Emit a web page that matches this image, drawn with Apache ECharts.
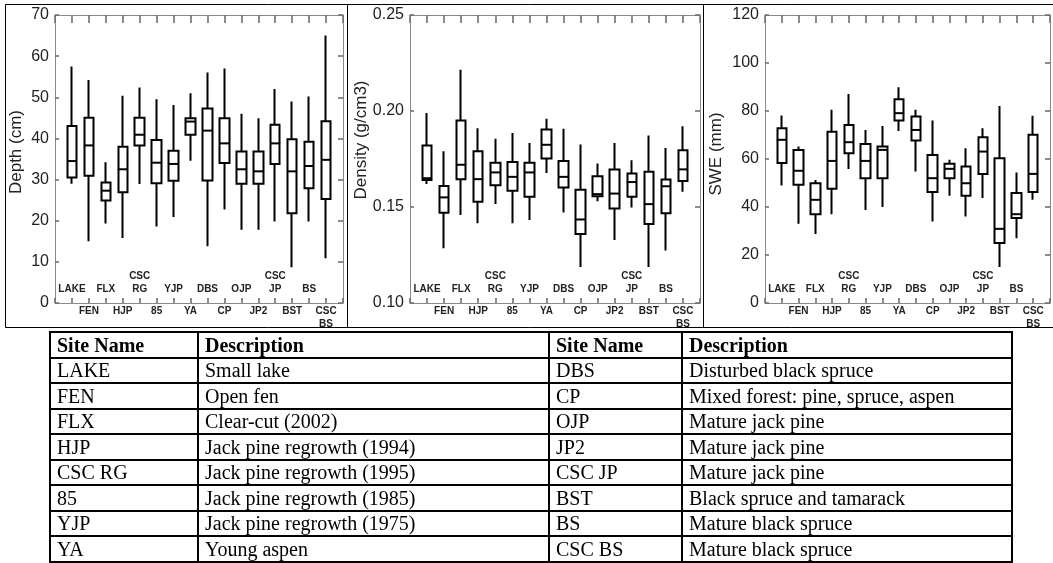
<!DOCTYPE html>
<html>
<head>
<meta charset="utf-8">
<script src="https://cdn.jsdelivr.net/npm/echarts@6/dist/echarts.min.js"></script>
<style>
  html, body { margin: 0; padding: 0; background: #fff; }
  #wrap { position: relative; width: 1053px; height: 563px; overflow: hidden; }
  #chart { position: absolute; left: 0; top: 0; width: 1053px; height: 563px; }
  #sites {
    position: absolute; left: 49px; top: 331px; width: 962px;
    border-collapse: collapse; table-layout: fixed; z-index: 2;
    font-family: 'Liberation Serif', 'Times New Roman', serif; font-size: 20px; color: #000;
  }
  #sites td, #sites th {
    border: 2px solid #000; height: 23.5px; line-height: 22px; padding: 0 6px;
    text-align: left; white-space: nowrap; font-weight: normal;
  }
  #sites th { font-weight: bold; }
</style>
</head>
<body>
<div id="wrap">
  <div id="chart"></div>
  <table id="sites"></table>
</div>
<script>
// site order along the x axes
const sites = ['LAKE', 'FEN', 'FLX', 'HJP', 'CSC RG', '85', 'YJP', 'YA', 'DBS', 'CP', 'OJP', 'JP2', 'CSC JP', 'BST', 'BS', 'CSC BS']
const descriptions = [
  'Small lake', 'Open fen', 'Clear-cut (2002)', 'Jack pine regrowth (1994)', 'Jack pine regrowth (1995)',
  'Jack pine regrowth (1985)', 'Jack pine regrowth (1975)', 'Young aspen', 'Disturbed black spruce',
  'Mixed forest: pine, spruce, aspen', 'Mature jack pine', 'Mature jack pine', 'Mature jack pine',
  'Black spruce and tamarack', 'Mature black spruce', 'Mature black spruce',
]

// [min, q1, median, q3, max] per site
const depthBox = [
  [29, 30.5, 34.5, 43, 57.5], [15, 30.9, 38.3, 45, 54.2], [19.3, 24.9, 27.3, 29.3, 34.2], [15.8, 26.9, 32.5, 38, 50.4],
  [28.9, 38.3, 40.9, 45, 52.4], [18.6, 29.1, 34.1, 39.6, 49.5], [20.9, 29.7, 33.8, 37, 48.1], [34.6, 40.9, 44.1, 44.9, 51],
  [13.8, 29.8, 41.9, 47.3, 56], [22.7, 34, 38.8, 44.9, 57], [17.8, 29, 32.5, 36.8, 46], [17.8, 29, 32, 36.8, 44.9],
  [19.8, 33.8, 38.8, 43.3, 52], [8.7, 21.8, 32, 39.8, 49], [19.8, 27.9, 33.3, 39.2, 50.2], [10.9, 25.3, 34.8, 44.2, 65],
]
const densityBox = [
  [0.162, 0.164, 0.165, 0.182, 0.199], [0.1285, 0.147, 0.155, 0.161, 0.179], [0.1458, 0.1645, 0.172, 0.195, 0.2215], [0.1415, 0.1527, 0.1645, 0.179, 0.191],
  [0.1515, 0.1613, 0.168, 0.173, 0.1855], [0.1415, 0.1584, 0.1657, 0.1734, 0.1885], [0.1432, 0.1553, 0.168, 0.173, 0.1833], [0.1677, 0.1752, 0.1824, 0.1904, 0.196],
  [0.1472, 0.1601, 0.1657, 0.174, 0.1907], [0.1187, 0.136, 0.1435, 0.159, 0.1826], [0.153, 0.1556, 0.1567, 0.166, 0.1726], [0.1328, 0.1492, 0.157, 0.1695, 0.1833],
  [0.1498, 0.1553, 0.163, 0.1674, 0.1743], [0.1187, 0.1411, 0.1515, 0.1683, 0.1873], [0.1273, 0.1467, 0.1608, 0.1643, 0.1807], [0.1579, 0.1636, 0.1696, 0.1795, 0.192],
]
const sweBox = [
  [49, 58.3, 68, 72.8, 78.1], [33, 49.3, 55.1, 63.8, 65.2], [28.7, 37, 43, 49.9, 51.3], [37, 47.6, 59.2, 71.4, 80.5],
  [55.8, 62.4, 67, 74.2, 87.1], [38.8, 52, 59.2, 66.3, 72.1], [40, 52, 63.8, 65.2, 73.8], [71.7, 76, 79.1, 84.9, 89.9],
  [54.8, 67.7, 72.1, 77.7, 80.5], [34, 46.2, 52, 61.7, 76], [44.7, 52, 55.9, 58, 59.7], [36, 44.7, 49.9, 56.9, 64.5],
  [43.7, 53.8, 63.1, 69.1, 72.8], [15, 25, 30.9, 60.3, 82.1], [27, 35.4, 37, 45.8, 54.4], [43, 46.2, 53.8, 70.1, 78],
]

// site table below the plots, two site columns side by side
const table = document.getElementById('sites')
const half = sites.length / 2
let html = '<colgroup><col style="width:148px"><col style="width:351px"><col style="width:133px"><col style="width:330px"></colgroup>'
html += '<tr><th>Site Name</th><th>Description</th><th>Site Name</th><th>Description</th></tr>'
for (let k = 0; k < half; k++) {
  html += '<tr><td>' + sites[k] + '</td><td>' + descriptions[k] + '</td><td>' +
    sites[k + half] + '</td><td>' + descriptions[k + half] + '</td></tr>'
}
table.innerHTML = html

const panels = [
  {box: depthBox, title: 'Depth (cm)', min: 0, max: 70, interval: 10, fmt: v => String(v),
    grid: {left: 55, top: 15, width: 288, height: 288}, titleX: 16, titleY: 152},
  {box: densityBox, title: 'Density (g/cm3)', min: 0.1, max: 0.25, interval: 0.05, fmt: v => v.toFixed(2),
    grid: {left: 410, top: 15, width: 290, height: 288}, titleX: 361, titleY: 140},
  {box: sweBox, title: 'SWE (mm)', min: 0, max: 120, interval: 20, fmt: v => String(v),
    grid: {left: 765, top: 15, width: 285, height: 288}, titleX: 716, titleY: 154},
]

const frameColor = '#8a8a8a'
const tickColor = '#707070'
const textColor = '#222'
// one empty slot on each side of the sites
const xCats = ['_l', ...sites, '_r']
const label = s => s.replace(' ', '\n')
const outsideFmt = (v, i) => (i >= 1 && i <= sites.length && (i - 1) % 2 === 1) ? label(v) : ''
const insideFmt = (v, i) => (i >= 1 && i <= sites.length && (i - 1) % 2 === 0) ? label(v) : ''

const xLabelStyle = {
  color: textColor, fontSize: 10, fontWeight: 'bold', fontFamily: 'Liberation Sans',
  interval: 0, hideOverlap: false,
}
const tickLine = {color: tickColor, width: 1.6}

const grid = [], xAxis = [], yAxis = [], dataset = [], series = [], graphic = []

panels.forEach((p, i) => {
  grid.push(Object.assign({outerBoundsMode: 'none', containLabel: false}, p.grid))

  dataset.push({
    sourceHeader: false,
    source: sites.map((s, k) => [s, p.box[k][1], p.box[k][3], p.box[k][0], p.box[k][4], p.box[k][2]]),
  })

  // bottom axis: line, inward ticks, labels of every second site below
  xAxis.push({
    gridIndex: i, type: 'category', data: xCats, position: 'bottom', boundaryGap: false,
    axisLine: {lineStyle: {color: frameColor, width: 1}},
    axisTick: {show: true, inside: true, length: 5, interval: 0, lineStyle: tickLine},
    axisLabel: Object.assign({margin: 2, lineHeight: 12.6, formatter: outsideFmt}, xLabelStyle),
    splitLine: {show: false},
  })
  // labels of the other sites, drawn inside the plot
  xAxis.push({
    gridIndex: i, type: 'category', data: xCats, position: 'bottom', boundaryGap: false,
    axisLine: {show: false}, axisTick: {show: false},
    axisLabel: Object.assign({inside: true, margin: 7, lineHeight: 13, formatter: insideFmt}, xLabelStyle),
    splitLine: {show: false},
  })
  // top mirror
  xAxis.push({
    gridIndex: i, type: 'category', data: xCats, position: 'top', boundaryGap: false,
    axisLine: {lineStyle: {color: frameColor, width: 1}},
    axisTick: {show: true, inside: true, length: 8, interval: 0, lineStyle: tickLine},
    axisLabel: {show: false}, splitLine: {show: false},
  })

  yAxis.push({
    gridIndex: i, type: 'value', position: 'left', min: p.min, max: p.max, interval: p.interval,
    axisLine: {show: true, lineStyle: {color: frameColor, width: 1}},
    axisTick: {show: true, inside: true, length: 4, lineStyle: tickLine},
    axisLabel: {color: textColor, fontSize: 16, fontFamily: 'Liberation Sans', margin: 6, formatter: p.fmt},
    splitLine: {show: false},
  })
  yAxis.push({
    gridIndex: i, type: 'value', position: 'right', min: p.min, max: p.max, interval: p.interval,
    axisLine: {show: true, lineStyle: {color: frameColor, width: 1}},
    axisTick: {show: true, inside: true, length: 5, lineStyle: tickLine},
    axisLabel: {show: false}, splitLine: {show: false},
  })

  // box + whiskers (no caps) as candlesticks: open = q1, close = q3
  series.push({
    type: 'candlestick', datasetIndex: i, xAxisIndex: 3 * i, yAxisIndex: 2 * i,
    encode: {x: 0, y: [1, 2, 3, 4]},
    barWidth: 10, silent: true,
    itemStyle: {color: '#fff', color0: '#fff', borderColor: '#000', borderColor0: '#000', borderWidth: 2},
  })
  // median bar
  series.push({
    type: 'scatter', datasetIndex: i, xAxisIndex: 3 * i, yAxisIndex: 2 * i,
    encode: {x: 0, y: 5}, symbol: 'rect', symbolSize: [10, 2], silent: true, z: 5,
    itemStyle: {color: '#000', opacity: 1},
  })

  graphic.push({
    type: 'text', x: p.titleX, y: p.titleY, rotation: Math.PI / 2,
    style: {text: p.title, fill: textColor, font: '17px "Liberation Sans"', align: 'center', verticalAlign: 'middle'},
  })
})

// panel frames
graphic.push({type: 'rect', shape: {x: 5.5, y: 4.5, width: 1060, height: 323}, style: {fill: 'none', stroke: '#000', lineWidth: 1}})
graphic.push({type: 'line', shape: {x1: 347.5, y1: 4, x2: 347.5, y2: 328}, style: {stroke: '#000', lineWidth: 1}})
graphic.push({type: 'line', shape: {x1: 703.5, y1: 4, x2: 703.5, y2: 328}, style: {stroke: '#000', lineWidth: 1}})

const chart = echarts.init(document.getElementById('chart'), null, {renderer: 'canvas'})
chart.setOption({
  backgroundColor: '#fff',
  animation: false,
  grid, xAxis, yAxis, dataset, series, graphic,
})
</script>
</body>
</html>
